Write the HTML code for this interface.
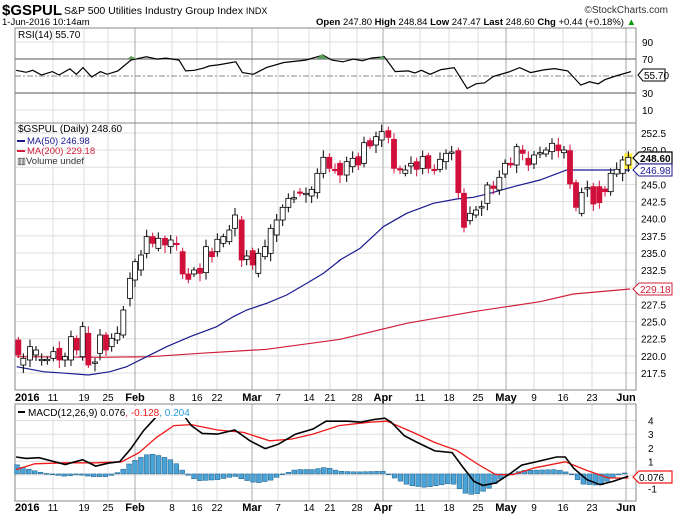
<!DOCTYPE html>
<html><head><meta charset="utf-8"><style>
body{margin:0;background:#fff;}
svg{display:block;font-family:"Liberation Sans",sans-serif;}
</style></head><body>
<svg id="s" width="681" height="515" xmlns="http://www.w3.org/2000/svg">
<rect width="681" height="515" fill="#fff"/>
<text x="2" y="15" font-size="15" font-weight="bold">$GSPUL</text>
<text x="64" y="14" font-size="10.5">S&amp;P 500 Utilities Industry Group Index <tspan font-size="9">INDX</tspan></text>
<text x="668" y="13" font-size="10" text-anchor="end" fill="#333">©StockCharts.com</text>
<text x="2" y="25" font-size="9.5">1-Jun-2016 10:14am</text>
<text x="636" y="25" font-size="9.5" text-anchor="end"><tspan font-weight="bold">Open</tspan> 247.80 <tspan font-weight="bold">High</tspan> 248.84 <tspan font-weight="bold">Low</tspan> 247.47 <tspan font-weight="bold">Last</tspan> 248.60 <tspan font-weight="bold">Chg</tspan> +0.44 (+0.18%) <tspan fill="#090">▲</tspan></text>
<g id="g"></g>
</svg>
<script>
const NS="http://www.w3.org/2000/svg",G=document.getElementById('g');
function el(t,a,txt){const e=document.createElementNS(NS,t);for(const k in a)e.setAttribute(k,a[k]);if(txt!==undefined)e.textContent=txt;G.appendChild(e);return e;}
const L=15,R=636;
const weeks=[["2016",15,1],["11",53],["19",84],["25",108],["Feb",135,1],["8",172],["16",197],["22",217],["Mar",252,1],["7",278],["14",309],["21",330],["28",357],["Apr",383,1],["11",420],["18",449],["25",478],["May",506,1],["9",534],["16",563],["23",592],["Jun",626,1]];
function panel(y0,y1){
  for(const w of weeks){ if(w[1]>L) el('line',{x1:w[1],x2:w[1],y1:y0,y2:y1,stroke:w[2]?'#aaa':'#ddd','stroke-width':1}); }
  el('rect',{x:L,y:y0,width:R-L,height:y1-y0,fill:'none',stroke:'#888'});
}
function xlabels(y){for(const w of weeks){el('text',{x:w[1],y:y,'font-size':w[2]?11:10,'font-weight':w[2]?'bold':'normal','text-anchor':w[1]<=15?'start':'middle'},w[0]);}}
// RSI panel
const ry=v=>76-(v-50)*0.85;
for(const v of [90,10]) el('line',{x1:L,x2:R,y1:ry(v),y2:ry(v),stroke:'#ddd'});
panel(28,123);
el('line',{x1:L,x2:R,y1:ry(70),y2:ry(70),stroke:'#777','stroke-width':1.3});
el('line',{x1:L,x2:R,y1:ry(30),y2:ry(30),stroke:'#777','stroke-width':1.3});
el('line',{x1:L,x2:R,y1:ry(50),y2:ry(50),stroke:'#888','stroke-dasharray':'6,2,2,2'});
for(const v of [90,70,30,10]) el('text',{x:642,y:ry(v)+4,'font-size':10},v);
const rsi=[[37,208],[60,214],[75,208],[95,222],[120,212],[135,222],[160,204],[175,220],[190,200],[210,228],[230,212],[245,220],[270,210],[300,178],[335,168],[360,175],[380,172],[410,178],[425,210],[445,208],[465,202],[480,195],[500,192],[540,183],[555,215],[580,220],[610,200],[650,185],[700,178],[740,163],[760,178],[785,183],[810,175],[830,180],[850,172],[880,168],[905,212],[935,210],[950,216],[965,208],[985,220],[1010,206],[1040,200],[1070,262],[1090,248],[1110,245],[1130,226],[1165,213],[1190,200],[1215,215],[1245,207],[1270,203],[1300,210],[1330,252],[1350,242],[1370,248],[1385,236],[1410,225],[1445,212]];
el('polyline',{points:rsi.map(p=>(p[0]/2.29).toFixed(1)+','+(p[1]/2.96).toFixed(1)).join(' '),fill:'none',stroke:'#000','stroke-width':1.2});
el('path',{d:'M127,59 L131,56 L137,59Z M316,59 L322,54 L328,59Z M377,59 L382,56 L386,59Z',fill:'#5a9a5a'});
el('text',{x:18,y:38,'font-size':10},'RSI(14) 55.70');
el('path',{d:'M638,75 l5,-6 h22 v12 h-22z',fill:'#fff',stroke:'#000'});
el('text',{x:644,y:79,'font-size':10},'55.70');
// Main panel
const py=p=>133+(252.5-p)*6.857;
for(let p=217.5;p<=252.5;p+=2.5) el('line',{x1:L,x2:R,y1:py(p),y2:py(p),stroke:'#ddd'});
panel(123,390);
for(let p=217.5;p<=252.5;p+=2.5) el('text',{x:641,y:py(p)+4,'font-size':10},p.toFixed(1));
const ma200=[[50,710],[300,712],[450,710],[600,700],[800,688],[1021,658]].map(p=>[p[0]/3,120+p[1]/3]).concat([[0,658],[200,610],[400,575],[600,545],[700,522],[870,507]].map(p=>[340+p[0]/3,120+p[1]/3]));
const ma50=[[50,740],[130,755],[200,760],[265,765],[330,755],[380,740],[440,710],[500,680],[570,650],[650,620],[700,590],[740,570],[800,550],[860,525],[920,490],[970,460],[1021,420]].map(p=>[p[0]/3,120+p[1]/3]).concat([[0,420],[60,385],[130,320],[200,280],[280,250],[350,237],[400,232],[450,220],[520,200],[600,180],[680,150],[870,150]].map(p=>[340+p[0]/3,120+p[1]/3]));
el('polyline',{points:ma200.map(p=>p.join(',')).join(' '),fill:'none',stroke:'#d0203a','stroke-width':1.2});
el('polyline',{points:ma50.map(p=>p.join(',')).join(' '),fill:'none',stroke:'#1a1a90','stroke-width':1.2});
// candles: [zx, top, bottom, red?]
const c1=[[55,660,705,1],[70,715,735,0],[90,680,720,0],[108,690,705,0],[125,718,722,0],[142,718,722,0],[160,695,715,0],[178,685,720,1],[195,710,720,0],[213,650,720,0],[230,655,690,1],[248,620,710,0],[265,640,735,1],[285,726,730,0],[300,645,700,0],[318,645,690,1],[335,655,680,0],[352,640,660,0],[370,570,645,0],[390,475,535,0],[405,425,480,0],[423,405,450,0],[440,350,400,0],[458,350,370,1],[475,355,385,0],[495,355,375,1],[512,360,380,0],[530,370,374,1],[548,395,462,1],[565,462,478,1],[582,450,462,0],[600,445,460,1],[618,380,458,0],[636,395,410,1],[652,358,395,0],[670,350,370,0],[688,330,365,0],[705,285,325,0],[725,300,420,1],[740,408,418,0],[758,392,435,1],[775,400,460,0],[795,380,410,0],[812,325,400,0],[830,300,345,0],[848,262,300,0],[865,235,262,0],[882,233,237,0],[900,216,220,1],[918,220,224,0],[935,208,228,0],[952,160,218,0],[970,112,160,0],[988,112,145,1],[1005,148,152,1]];
const c2=[[0,130,165,1],[20,125,165,0],[38,115,140,0],[55,110,135,1],[72,68,130,0],[90,62,78,1],[108,50,75,0],[125,35,60,0],[145,32,52,1],[162,58,145,1],[180,146,150,1],[196,150,160,0],[213,130,138,0],[230,125,148,1],[248,110,145,0],[265,107,145,1],[283,148,152,1],[300,118,148,0],[318,100,125,0],[335,96,100,0],[355,92,218,1],[372,220,322,1],[390,280,302,0],[408,270,285,0],[425,260,264,0],[442,195,250,0],[460,198,205,1],[478,172,210,0],[495,130,162,0],[512,130,135,1],[530,80,135,0],[548,90,100,1],[565,115,135,1],[582,105,132,0],[600,98,102,0],[618,90,102,0],[636,70,95,0],[655,75,92,1],[672,90,98,0],[690,92,192,1],[708,188,262,1],[725,218,280,0],[742,203,207,0],[760,200,252,1],[778,200,248,1],[795,207,215,1],[812,160,215,0],[830,148,162,0],[848,120,160,0],[865,112,135,0]];
const all=c1.map(c=>[c[0]/3,120+c[1]/3,120+c[2]/3,c[3]]).concat(c2.map(c=>[340+c[0]/3,120+c[1]/3,120+c[2]/3,c[3]]));
all.forEach((c,i)=>{
  const [x,t,b,r]=c, h=Math.max(b-t,1.2), wt=3+((i*7)%5), wb=3+((i*11)%6);
  if(i==all.length-1) el('rect',{x:x-4,y:t-4,width:8,height:h+8,fill:'#ffef3a'});
  el('line',{x1:x,x2:x,y1:t-wt,y2:t+h+wb,stroke:r?'#d0103a':'#000','stroke-width':1});
  el('rect',{x:x-2.5,y:t,width:5,height:h,fill:r?'#d0103a':'#fff',stroke:r?'#d0103a':'#000','stroke-width':0.8});
});
el('text',{x:18,y:132,'font-size':10},'$GSPUL (Daily) 248.60');
el('line',{x1:17,x2:25,y1:141,y2:141,stroke:'#1a1a90','stroke-width':2});
el('text',{x:27,y:144,'font-size':9.5,fill:'#1a1a90'},'MA(50) 246.98');
el('line',{x1:17,x2:25,y1:151,y2:151,stroke:'#d0203a','stroke-width':2});
el('text',{x:27,y:154,'font-size':9.5,fill:'#d0203a'},'MA(200) 229.18');
el('text',{x:17,y:164,'font-size':9.5,fill:'#333'},'▥Volume undef');
el('path',{d:'M633,158 l6,-6 h33 v12 h-33z',fill:'#fff',stroke:'#000','stroke-width':1.2});
el('text',{x:640,y:162,'font-size':10,'font-weight':'bold'},'248.60');
el('path',{d:'M633,170 l6,-6 h33 v12 h-33z',fill:'#fff',stroke:'#1a1a90'});
el('text',{x:640,y:174,'font-size':10,fill:'#1a1a90'},'246.98');
el('path',{d:'M633,289 l6,-6 h33 v12 h-33z',fill:'#fff',stroke:'#d0203a'});
el('text',{x:640,y:293,'font-size':10,fill:'#d0203a'},'229.18');
xlabels(401);
// MACD panel
const my=v=>475-v*13.6;
for(const v of [4,3,2,1,0,-1]) el('line',{x1:L,x2:R,y1:my(v),y2:my(v),stroke:'#ddd'});
panel(404,501);
for(const v of [4,3,2,1,-1]) el('text',{x:648,y:my(v)+4,'font-size':10},v);
const mz=p=>[p[0]/2.3,380+p[1]/2.96];
const hist=[[37,250],[60,262],[90,272],[120,280],[150,285],[180,280],[210,286],[250,286],[280,268],[300,245],[330,225],[345,218],[370,225],[400,240],[420,268],[440,290],[460,298],[500,295],[540,285],[560,295],[590,305],[620,298],[650,280],[680,265],[720,265],[750,258],[780,270],[820,272],[880,270],[900,285],[940,312],[980,318],[1040,305],[1070,335],[1090,340],[1120,325],[1160,285],[1200,268],[1280,265],[1310,275],[1340,308],[1380,312],[1420,282],[1445,272]];
function hv(zx){for(let i=0;i<hist.length-1;i++){if(zx>=hist[i][0]&&zx<=hist[i+1][0]){const f=(zx-hist[i][0])/(hist[i+1][0]-hist[i][0]);return hist[i][1]+f*(hist[i+1][1]-hist[i][1]);}}return 278;}
const zy0=380+278/2.96;
for(let x=17;x<=628;x+=5.9){const y=380+hv(x*2.3)/2.96;el('rect',{x:x-2.4,y:Math.min(y,zy0),width:4.8,height:Math.max(Math.abs(y-zy0),0.8),fill:'#4aa3d6',stroke:'#1d5d88','stroke-width':0.5});}
const mred=[[37,265],[80,248],[150,245],[220,245],[280,242],[320,215],[360,170],[400,135],[440,132],[500,148],[560,155],[620,180],[670,175],[720,160],[780,135],[850,125],[890,122],[950,155],[1000,185],[1050,208],[1100,250],[1140,280],[1180,280],[1230,260],[1300,242],[1350,268],[1400,290],[1445,290]];
const mblk=[[37,228],[60,232],[90,230],[120,240],[150,250],[190,236],[220,255],[250,246],[275,242],[300,205],[330,150],[355,115],[370,95],[420,100],[440,135],[465,158],[500,160],[540,148],[575,180],[610,203],[640,190],[680,160],[720,145],[750,122],[800,122],[830,125],[860,117],[885,113],[900,125],[930,165],[960,185],[1000,210],[1040,215],[1060,250],[1090,300],[1110,312],[1140,305],[1170,280],[1200,252],[1240,240],[1280,228],[1300,228],[1320,262],[1350,295],[1380,310],[1410,300],[1445,285]];
el('polyline',{points:mred.map(p=>mz(p).map(v=>v.toFixed(1)).join(',')).join(' '),fill:'none',stroke:'#f01818','stroke-width':1.3});
el('polyline',{points:mblk.map(p=>mz(p).map(v=>v.toFixed(1)).join(',')).join(' '),fill:'none',stroke:'#000','stroke-width':1.6});
el('rect',{x:16,y:406,width:215,height:12,fill:'#fff'});
el('line',{x1:18,x2:25,y1:412,y2:412,stroke:'#000','stroke-width':2});
const t=el('text',{x:28,y:416,'font-size':10});
t.innerHTML='MACD(12,26,9) 0.076<tspan fill="#f01818">, -0.128</tspan><tspan fill="#2a9ad6">, 0.204</tspan>';
el('path',{d:'M633,477 l6,-6 h33 v12 h-33z',fill:'#fff',stroke:'#f01818','stroke-width':1.2});
el('text',{x:639,y:481,'font-size':10},'0.076');
xlabels(511);
</script>
</body></html>
